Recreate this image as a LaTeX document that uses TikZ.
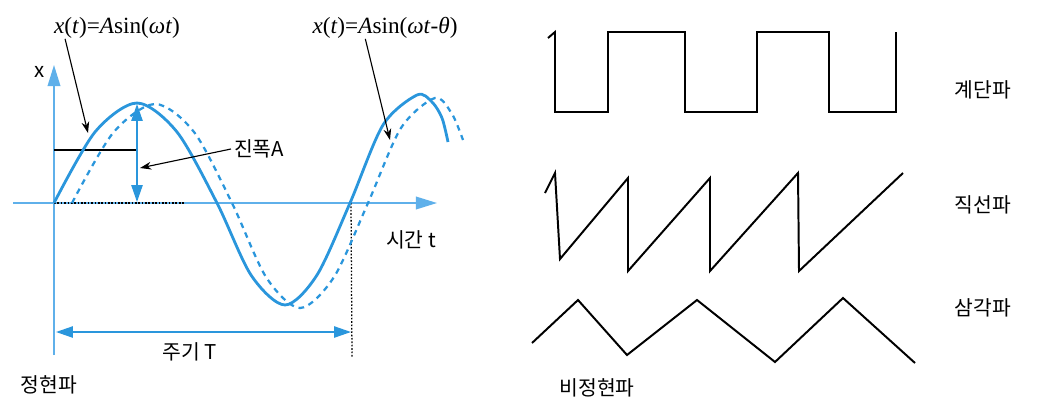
\documentclass[tikz,border=0pt]{standalone}
\usepackage{amsmath}
\usepackage[no-math]{fontspec}
\newfontfamily\krfont{Noto Sans CJK KR}
\newfontfamily\eqfont{Liberation Serif}
\usetikzlibrary{arrows.meta}
\definecolor{mBlue}{HTML}{2A96DC}
\definecolor{mAxis}{HTML}{5FB0EA}

\begin{document}
\begin{tikzpicture}[x=0.025cm, y=-0.025cm,
    lbl/.style={font=\krfont\fontsize{14.5}{17}\selectfont, inner sep=0pt},
    eq/.style={font=\eqfont\fontsize{16.5}{19}\selectfont, inner sep=0pt},
    axis/.style={mAxis, line width=1.1pt, -{Triangle[length=15pt, width=9pt]}},
    wave/.style={mBlue, line width=2pt},
    lagwave/.style={mBlue, line width=1.6pt, dash pattern=on 4pt off 3.5pt},
    dimarrow/.style={mBlue, line width=1.1pt,
      {Triangle[length=12pt, width=8pt]}-{Triangle[length=12pt, width=8pt]}},
    guide/.style={black, line width=0.9pt, dash pattern=on 1.2pt off 1.2pt},
    callout/.style={black, line width=0.8pt, -{Stealth[length=8pt, width=5.5pt]}},
    shapeline/.style={black, line width=1.4pt}]
  \useasboundingbox (0,0) rectangle (1063,403);

  % sine wave panel
  \draw[axis] (54,355) -- (54,65);
  \draw[axis] (13,203) -- (437,203);
  \node[lbl] (xlbl) at (40,72) {x};
  \node[lbl] (tlbl) at (411,240) {시간 t};

  \draw[guide] (54,203) -- (184,203);
  \draw[guide] (351,203) -- (352,357);
  \draw[black, line width=0.8pt] (54,150) -- (137,150);

  \draw[lagwave] plot[smooth] coordinates {(72,203) (113,133) (155,104) (194,132)
    (232,203) (266,277) (300,308) (334,277) (368,203) (401,128) (435,98) (452,114) (463,140)};
  \draw[wave] plot[smooth] coordinates {(54,203) (95,132) (137,103) (177,132)
    (217,203) (251,275) (285,305) (317,275) (350,203) (383,125) (417,95) (432,102)
    (442,118) (448,142)};

  \coordinate (peak) at (137,104);
  \coordinate (base) at (137,202);
  \draw[dimarrow] (peak) -- (base);

  \coordinate (T0) at (56,332);
  \coordinate (T1) at (351,332);
  \draw[dimarrow] (T0) -- (T1);
  \node[lbl] (period) at (190,352) {주기 T};

  \node[eq] (sinA) at (117,28) {\textit{x}(\textit{t})=\textit{A}sin(\textit{ωt})};
  \node[eq] (sinB) at (385,28) {\textit{x}(\textit{t})=\textit{A}sin(\textit{ωt}-\textit{θ})};
  \node[lbl] (amp) at (259,149) {진폭A};
  \coordinate (onA) at (88,133);
  \coordinate (onB) at (390,140);
  \coordinate (onAmp) at (140,168);
  \draw[callout] ([xshift=8pt]sinA.south west) -- (onA);
  \draw[callout] ([xshift=-14pt]sinB.south) -- (onB);
  \draw[callout] ([xshift=-2pt]amp.west) -- (onAmp);

  \node[lbl] (sinname) at (49,385) {정현파};

  % non-sine panel
  \draw[shapeline] (548,38) -- (555,32) -- (555,112) -- (608,112) -- (608,32)
    -- (685,32) -- (685,112) -- (757,112) -- (757,32) -- (829,32) -- (829,112)
    -- (896,112) -- (896,32);
  \draw[shapeline] (545,193) -- (555,173) -- (560,259) -- (628,178) -- (628,271)
    -- (710,178) -- (710,271) -- (798,173) -- (799,271) -- (903,173);
  \draw[shapeline] (532,343) -- (578,300) -- (627,355) -- (697,300) -- (775,362)
    -- (843,298) -- (915,363);

  \node[lbl] (step) at (983,90) {계단파};
  \node[lbl] (ramp) at (983,205) {직선파};
  \node[lbl] (tri) at (983,308) {삼각파};
  \node[lbl] (nonsin) at (597,388) {비정현파};
\end{tikzpicture}
\end{document}
